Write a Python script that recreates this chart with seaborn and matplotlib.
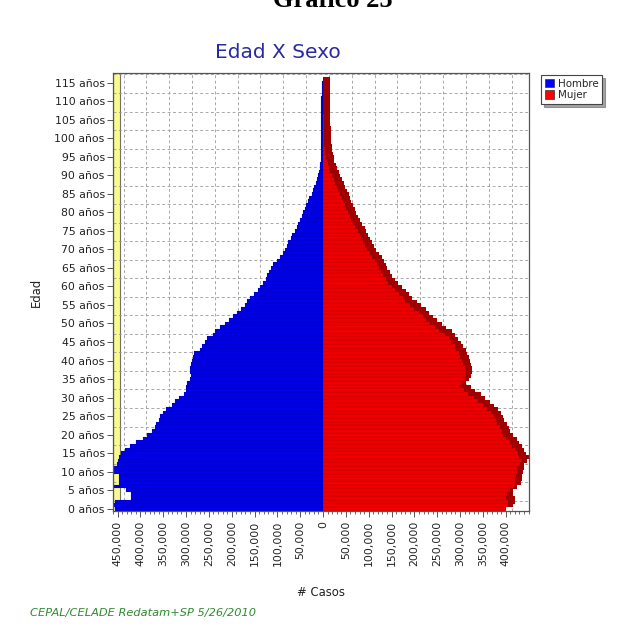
import numpy as np
import pandas as pd
import matplotlib
matplotlib.use("Agg")
import matplotlib.pyplot as plt
from matplotlib.patches import Patch
from matplotlib.ticker import FixedLocator, MultipleLocator
import seaborn as sns

# ---------------- data (thousands of persons) ----------
edades = list(range(0, 116))

hombre_miles = [
    455, 458, 455, 420, 420, 432, 458, 447, 447, 446,   # 0-9
    462, 463, 452, 450, 447, 442, 434, 422, 410, 395,   # 10-19
    385, 375, 368, 365, 360, 356, 350, 345, 330, 325,   # 20-29
    315, 305, 300, 300, 298, 292, 290, 292, 292, 290,   # 30-39
    286, 284, 282, 270, 265, 258, 254, 242, 236, 226,   # 40-49
    215, 205, 197, 188, 180, 172, 166, 160, 152, 143,   # 50-59
    138, 132, 126, 122, 118, 113, 110, 100, 95, 88,     # 60-69
    84, 80, 76, 71, 67, 62, 58, 54, 50, 46,             # 70-79
    43, 40, 37, 34, 30, 25, 22, 19, 16, 13,             # 80-89
    10, 8.5, 7, 6, 5.5, 5, 5, 5, 4.5, 4.5,              # 90-99
    4.5, 4, 4, 4, 4, 4, 4, 3.5, 3.5, 3.5,               # 100-109
    3.5, 3.5, 3, 3, 3, 3,                               # 110-115
]

mujer_miles = [
    400, 405, 405, 400, 402, 410, 418, 420, 420, 422,   # 0-9
    425, 424, 432, 435, 430, 426, 420, 414, 410, 400,   # 10-19
    395, 392, 388, 382, 378, 374, 368, 360, 350, 340,   # 20-29
    330, 318, 308, 298, 305, 310, 312, 312, 310, 306,   # 30-39
    304, 300, 297, 292, 288, 280, 275, 268, 255, 245,   # 40-49
    235, 226, 218, 210, 200, 190, 180, 174, 166, 158,   # 50-59
    150, 143, 137, 132, 126, 122, 118, 113, 107, 102,   # 60-69
    97, 92, 88, 84, 80, 76, 71, 66, 62, 58,             # 70-79
    54, 50, 47, 44, 41, 37, 33, 30, 27, 23,             # 80-89
    19, 16, 13, 10, 8, 6, 5, 4, 3, 2.5,                 # 90-99
    2, 1.5, 1.5, 1, 1, 1, 1, 0.5, 0.5, 0.5,             # 100-109
    0.5, 0.5, 0.5, 0.5, 0.5, 0.5,                       # 110-115
]

xticks_vals = list(range(-450000, 400001, 50000))
yticks_vals = list(range(0, 116, 5))
ytick_labels = [f"{a} años" for a in yticks_vals]
xtick_labels = [f"{abs(v):,}" for v in xticks_vals]

# ---------------- table -------------------------------------------------------
hombre = np.array(hombre_miles) * 1000
mujer = np.array(mujer_miles) * 1000
edad_arr = np.array(edades, dtype=float)

df = pd.DataFrame({
    "Edad": np.concatenate([edad_arr, edad_arr]),
    "Casos": np.concatenate([-hombre, mujer]),
    "Sexo": ["Hombre"] * len(edades) + ["Mujer"] * len(edades),
})

# 3-D side face of the female bars (style only: shifted copy of the data)
DEPTH_X = 15000
DEPTH_Y = 0.9
df_depth = pd.DataFrame({"Edad": edad_arr + DEPTH_Y, "Casos": mujer + DEPTH_X})

# ---------------- figure ------------------------------------------------------
sns.set_theme(style="white")
plt.rcParams["font.family"] = ["DejaVu Sans"]

W, H = 636, 634
fig = plt.figure(figsize=(W / 100, H / 100), dpi=100)
fig.patch.set_facecolor("white")

L, R, T, B = 113, 529, 73, 511
ax = fig.add_axes([L / W, 1 - B / H, (R - L) / W, (B - T) / H])
ax.set_facecolor("white")

XMIN, XMAX = -460000, 451000
YMIN, YMAX = -0.6, 117.6

# yellow 3-D left wall
ax.axvspan(XMIN, XMIN + 16000, facecolor="#FAFA8C", edgecolor="#707070",
           linewidth=0.8, zorder=0.5)

# dashed grid on the back wall (offset like the 3-D original)
grid_kw = dict(color="#9a9a9a", linestyle=(0, (3.5, 3)), linewidth=0.6, zorder=0.6)
for gx in np.arange(-450000, 450001, 50000) + 13000:
    if XMIN + 16000 < gx < XMAX:
        ax.axvline(gx, **grid_kw)
for gy in np.arange(0, 120, 5) + 2.2:
    if YMIN < gy < YMAX:
        ax.axhline(gy, **grid_kw)

# depth face
sns.barplot(data=df_depth, x="Casos", y="Edad", orient="h", native_scale=True,
            color="#A00000", saturation=1, width=1.0, errorbar=None,
            linewidth=0, ax=ax, zorder=1)

# main bars
sns.barplot(data=df, x="Casos", y="Edad", hue="Sexo", orient="h",
            native_scale=True, dodge=False, width=1.0, errorbar=None,
            palette={"Hombre": "#0000E6", "Mujer": "#EE0000"}, saturation=1,
            edgecolor=(0, 0, 0, 0.18), linewidth=0.35, legend=False, ax=ax,
            zorder=2)

ax.set_xlim(XMIN, XMAX)
ax.set_ylim(YMIN, YMAX)

ax.xaxis.set_major_locator(FixedLocator(xticks_vals))
ax.set_xticklabels(xtick_labels, rotation=90, fontsize=7.8, color="#222222")
ax.xaxis.set_minor_locator(MultipleLocator(10000))
ax.yaxis.set_major_locator(FixedLocator(yticks_vals))
ax.set_yticklabels(ytick_labels, fontsize=7.8, color="#222222")

ax.tick_params(axis="x", which="major", direction="out", length=4, width=0.7,
               color="#555555", bottom=True, pad=3)
ax.tick_params(axis="x", which="minor", direction="out", length=2, width=0.6,
               color="#555555", bottom=True)
ax.tick_params(axis="y", which="major", direction="out", length=4, width=0.7,
               color="#555555", left=True, pad=2)

for s in ax.spines.values():
    s.set_color("#555555")
    s.set_linewidth(0.9)
    s.set_visible(True)

ax.set_xlabel("# Casos", fontsize=8.4, color="#222222", labelpad=14)
ax.set_ylabel("Edad", fontsize=8.4, color="#222222", labelpad=8)

# titles / notes
fig.text(333 / W, 1 - 7 / H, "Gráfico 25", ha="center", va="baseline",
         fontsize=19, fontweight="bold", family="Liberation Serif", color="black")
fig.text(278 / W, 1 - 52 / H, "Edad X Sexo", ha="center", va="center",
         fontsize=14.5, color="#2A2AA0")
fig.text(30 / W, 1 - 613 / H, "CEPAL/CELADE Redatam+SP 5/26/2010", ha="left",
         va="center", fontsize=8.2, style="italic", color="#2E8B2E")

# legend
handles = [Patch(facecolor="#0000FF", edgecolor="#333333", linewidth=0.5, label="Hombre"),
           Patch(facecolor="#FF0000", edgecolor="#333333", linewidth=0.5, label="Mujer")]
leg = fig.legend(handles=handles, loc="upper left",
                 bbox_to_anchor=(541 / W, 1 - 75 / H), fontsize=7.4,
                 frameon=True, fancybox=False, shadow=True, borderpad=0.35,
                 handlelength=0.9, handleheight=0.9, handletextpad=0.4,
                 labelspacing=0.15, borderaxespad=0)
leg.get_frame().set_edgecolor("#444444")
leg.get_frame().set_linewidth(0.8)

fig.savefig("out.png", dpi=100, facecolor="white")
